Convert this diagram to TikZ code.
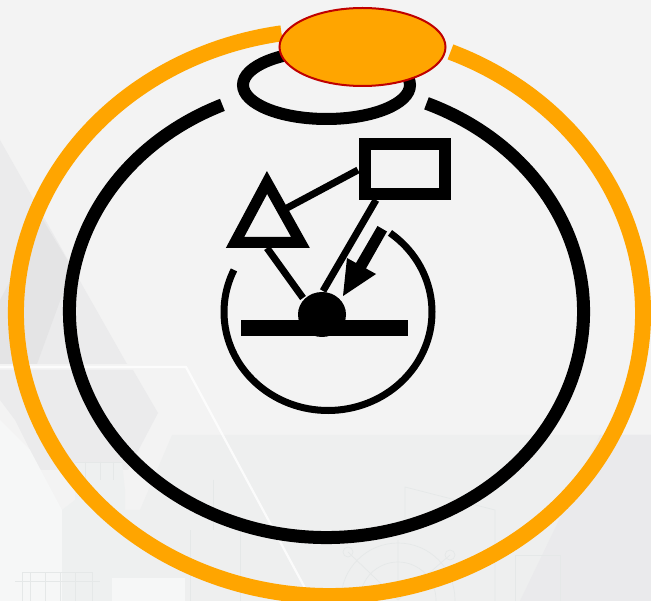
\documentclass[tikz,border=0pt]{standalone}
\definecolor{ringorange}{HTML}{FFA500}
\definecolor{capred}{HTML}{C00000}
\definecolor{bgbase}{HTML}{F3F3F3}
\definecolor{bgband}{HTML}{EEEFEF}
\definecolor{bgmid}{HTML}{EBEBEC}
\definecolor{bgdeep}{HTML}{E4E4E5}
\definecolor{bgright}{HTML}{EAEAEC}
\definecolor{bglight}{HTML}{F6F7F7}
\definecolor{bgtower}{HTML}{EEF0F0}
\definecolor{bgline}{HTML}{E5E8E8}
\tikzset{
  outerring/.style={draw=ringorange,line width=16pt},
  innerring/.style={draw=black,line width=13pt},
  topring/.style={draw=black,line width=12pt},
  thinring/.style={draw=black,line width=7pt},
  link/.style={draw=black,line width=7pt},
  bgsketch/.style={draw=bgline,line width=0.7pt},
  inout/.style={draw=black,line width=11pt,miter limit=10,line join=miter}
}
\begin{document}
\begin{tikzpicture}[x=1pt,y=1pt]
\useasboundingbox (0,-601) rectangle (651,0);
% background
\fill[bgbase] (0,-601) rectangle (651,0);
\fill[bgmid] (0,-140) -- (127,-364) -- (0,-364) -- cycle;
\fill[bgdeep] (43,-220) -- (72,-268) -- (37,-364) -- (0,-364) -- (0,-300) -- cycle;
\fill[bgmid] (0,-370) -- (133,-370) -- (158,-413) -- (128,-470) -- (40,-470) -- (15,-420) -- (0,-400) -- cycle;
\fill[bglight] (0,-420) -- (30,-450) -- (62,-510) -- (62,-601) -- (0,-601) -- cycle;
\fill[bgband] (172,-435) -- (651,-435) -- (651,-601) -- (140,-601) -- (140,-510) -- cycle;
\fill[bgright] (600,-435) -- (651,-435) -- (651,-601) -- (520,-601) -- cycle;
\fill[bgtower] (62,-510) -- (75,-500) -- (75,-462) -- (122,-462) -- (125,-490) -- (125,-510) -- (140,-510) -- (140,-601) -- (62,-601) -- cycle;
\fill[bglight] (112,-601) rectangle (185,-578);
\draw[draw=white,line width=2.2pt,opacity=.8] (0,-367) -- (186,-367) -- (312,-601);
\draw[bgsketch] (15,-581) -- (100,-581) (22,-601) -- (22,-572) -- (92,-572) -- (92,-601);
\draw[bgsketch] (30,-572) -- (30,-601) (45,-572) -- (45,-601) (60,-572) -- (60,-601) (75,-572) -- (75,-601);
\draw[bgsketch] (75,-462) -- (122,-462) (85,-462) -- (85,-480) (100,-462) -- (100,-480) (113,-462) -- (113,-480);
\draw[bgsketch] (190,-530) -- (190,-601) (213,-480) -- (213,-530) (240,-530) -- (240,-601);
\draw[bgsketch] (405,-530) -- (405,-487) -- (495,-510) -- (495,-601);
\draw[bgsketch] (398,-600) circle[radius=57pt] (398,-600) circle[radius=38pt];
\draw[bgsketch] (348,-552) circle[radius=5pt] (450,-555) circle[radius=5pt];
\draw[bgsketch] (398,-600) -- (348,-552) (398,-600) -- (450,-555) (398,-600) -- (398,-540);
\draw[bgsketch] (515,-601) -- (515,-555) -- (560,-555) -- (560,-601);
% rings
\coordinate (outerC) at (329.5,-313);
\coordinate (innerC) at (326.5,-311.5);
\coordinate (thinC) at (328,-312);
\draw[outerring] (outerC) ++(67.3:313.5pt and 283pt) arc[start angle=67.3,end angle=-261.2,x radius=313.5pt,y radius=283pt];
\draw[innerring] (innerC) ++(67.1:257pt and 226pt) arc[start angle=67.1,end angle=-246.1,x radius=257pt,y radius=226pt];
\draw[thinring] (thinC) ++(53.4:104pt and 98.5pt) arc[start angle=53.4,end angle=-205.3,x radius=104pt,y radius=98.5pt];
\draw[topring] (326.5,-85) ellipse[x radius=83.5pt,y radius=34pt];
\draw[draw=capred,fill=ringorange,line width=2pt] (362.5,-47) ellipse[x radius=83pt,y radius=39pt];
% icon
\coordinate (boxA) at (376,-200);
\coordinate (boxB) at (358,-170);
\coordinate (triA) at (287,-208);
\coordinate (triB) at (267,-248);
\coordinate (domeA) at (303,-298);
\coordinate (domeB) at (323,-291);
\draw[link] (boxB) -- (triA);
\draw[link] (triB) -- (domeA);
\draw[link] (boxA) -- (domeB);
\node[draw=black,line width=12pt,minimum width=80pt,minimum height=50pt,inner sep=0pt,outer sep=0pt] (box) at (405,-169) {};
\draw[inout] (267,-182.5) -- (235,-242.5) -- (300.5,-242.5) -- cycle;
\fill[black] (322,-314.5) ellipse[x radius=24pt,y radius=22.5pt];
\node[fill=black,minimum width=167pt,minimum height=16pt,inner sep=0pt,outer sep=0pt] (bar) at (324.5,-328) {};
% incident arrow
\fill[black] (377.5,-226) -- (387,-231.5) -- (366,-268.5) -- (376,-274) -- (343,-296) -- (347,-258) -- (356,-263) -- cycle;
\end{tikzpicture}
\end{document}
